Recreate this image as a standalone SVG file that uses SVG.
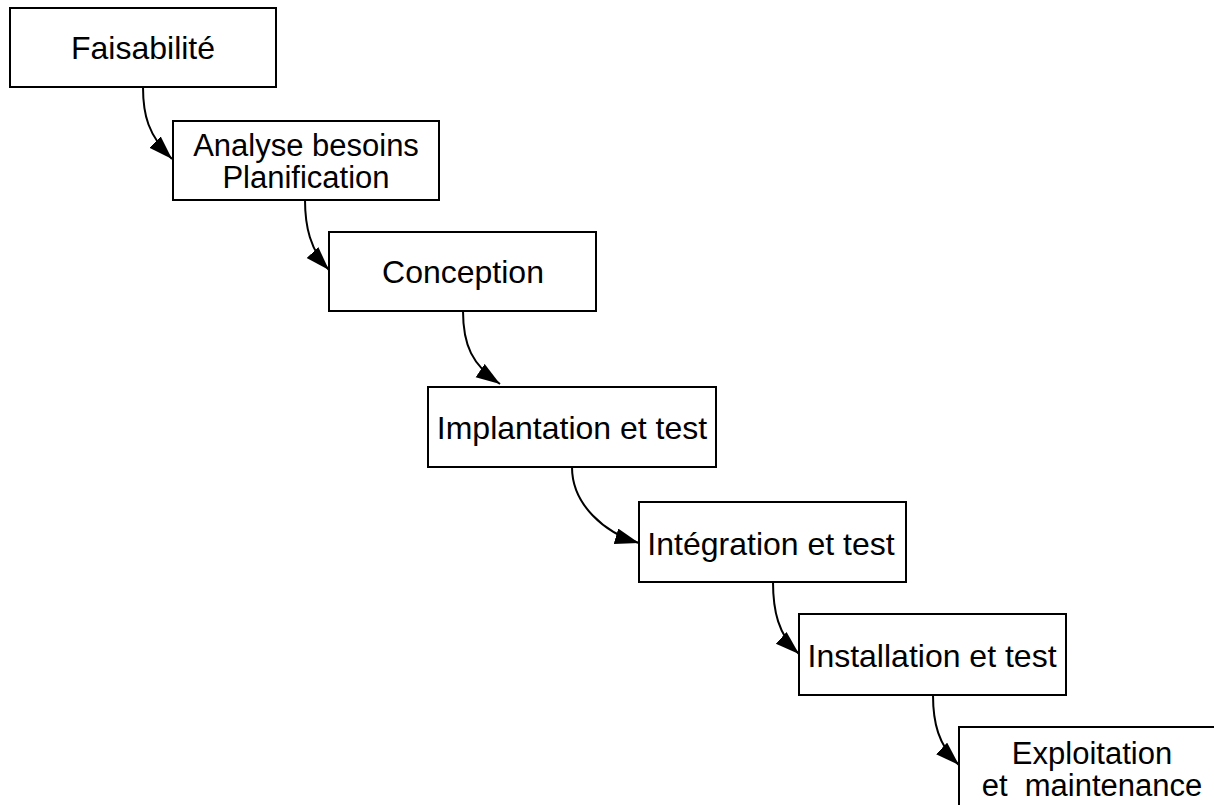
<svg xmlns="http://www.w3.org/2000/svg" width="1214" height="805" viewBox="0 0 1214 805">
  <style>
    .box { fill: #ffffff; stroke: #000000; stroke-width: 2; }
    .lbl { font-family: "Liberation Sans", Arial, sans-serif; font-size: 32px; fill: #000000; text-anchor: middle; }
    .lbl2 { font-family: "Liberation Sans", Arial, sans-serif; font-size: 31px; fill: #000000; text-anchor: middle; }
    .edge { fill: none; stroke: #000000; stroke-width: 2; }
  </style>
  <defs>
    <marker id="arrow" markerUnits="userSpaceOnUse" markerWidth="26" markerHeight="18" refX="24" refY="8" orient="auto">
      <path d="M0,0 L24,8 L0,16 Z" fill="#000000"/>
    </marker>
  </defs>
  <rect width="1214" height="805" fill="#ffffff"/>

  <g id="connectors">
    <path class="edge" d="M143,87 C143,115 148,135 172,159" marker-end="url(#arrow)"/>
    <path class="edge" d="M305,200 C305,226 310,250 329,270" marker-end="url(#arrow)"/>
    <path class="edge" d="M463,311 C463,345 472,365 500,384" marker-end="url(#arrow)"/>
    <path class="edge" d="M572,467 C572,505 605,533 639,543" marker-end="url(#arrow)"/>
    <path class="edge" d="M773,582 C773,610 778,635 799,654" marker-end="url(#arrow)"/>
    <path class="edge" d="M933,695 C933,722 938,745 959,765" marker-end="url(#arrow)"/>
  </g>

  <g id="faisabilite">
    <rect class="box" x="10" y="8" width="266" height="79"/>
    <text class="lbl" x="143" y="59">Faisabilité</text>
  </g>
  <g id="analyse">
    <rect class="box" x="173" y="121" width="266" height="79"/>
    <text class="lbl2" x="306" y="156">Analyse besoins</text>
    <text class="lbl2" x="306" y="188">Planification</text>
  </g>
  <g id="conception">
    <rect class="box" x="329" y="232" width="267" height="79"/>
    <text class="lbl" x="463" y="283">Conception</text>
  </g>
  <g id="implantation">
    <rect class="box" x="428" y="387" width="288" height="80"/>
    <text class="lbl" x="572" y="439">Implantation et test</text>
  </g>
  <g id="integration">
    <rect class="box" x="639" y="502" width="267" height="80"/>
    <text class="lbl" x="771" y="555">Intégration et test</text>
  </g>
  <g id="installation">
    <rect class="box" x="799" y="614" width="267" height="81"/>
    <text class="lbl" x="932" y="667">Installation et test</text>
  </g>
  <g id="exploitation">
    <rect class="box" x="959" y="727" width="266" height="82"/>
    <text class="lbl2" x="1092" y="764">Exploitation</text>
    <text class="lbl2" x="1092" y="796" xml:space="preserve">et  maintenance</text>
  </g>
</svg>
